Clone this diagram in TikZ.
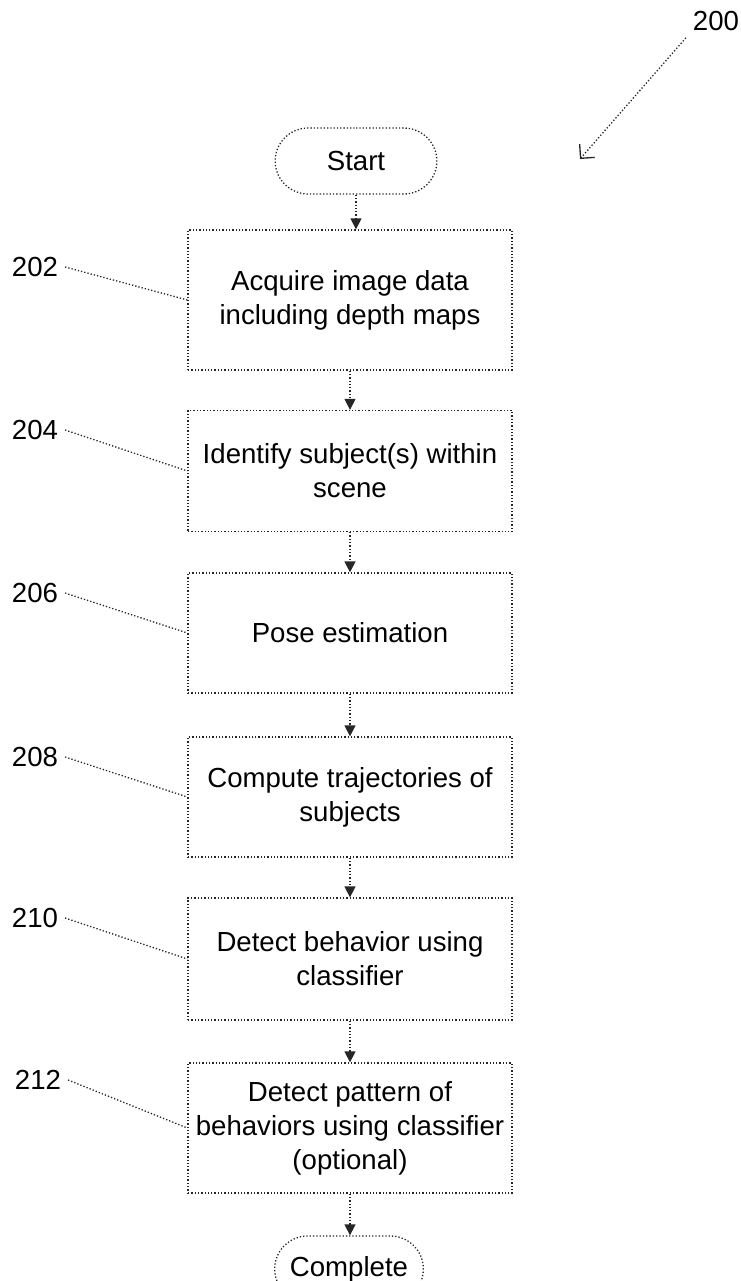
\documentclass[tikz,border=0pt]{standalone}
\usepackage{fontspec}
\setmainfont{Liberation Sans}
\usetikzlibrary{arrows.meta,shapes.misc}

\tikzset{
  thinline/.style={draw=black!85, densely dotted, line width=0.65pt},
  stepbox/.style={thinline, rectangle, minimum width=162pt, align=center,
    font=\fontsize{13.8}{17}\selectfont},
  terminal/.style={thinline, rounded rectangle, minimum height=33pt,
    font=\fontsize{13.8}{17}\selectfont},
  reflabel/.style={font=\fontsize{13.8}{17}\selectfont},
  flow/.style={thinline, -{Triangle[length=5.5pt,width=5.5pt]}},
  lead/.style={thinline}
}

\begin{document}
\begin{tikzpicture}[x=0.5pt,y=-0.5pt]
    \useasboundingbox (0,0) rectangle (740,1281);
    % flow steps
    \node[terminal, minimum width=87.5pt] (start) at (356,161) {Start};
    \node[stepbox, minimum height=70pt] (b202) at (350,300) {Acquire image data\\including depth maps};
    \node[stepbox, minimum height=60.5pt] (b204) at (350,471) {Identify subject(s) within\\scene};
    \node[stepbox, minimum height=60pt] (b206) at (350,633) {Pose estimation};
    \node[stepbox, minimum height=60pt] (b208) at (350,797) {Compute trajectories of\\subjects};
    \node[stepbox, minimum height=61pt] (b210) at (350,959) {Detect behavior using\\classifier};
    \node[stepbox, minimum height=65pt] (b212) at (350,1128) {Detect pattern of\\behaviors using classifier\\(optional)};
    \node[terminal, minimum width=81pt] (done) at (349,1269) {Complete};
    % connectors
    \draw[flow] (start.south) -- (start.south |- b202.north);
    \draw[flow] (b202.south) -- (b204.north);
    \draw[flow] (b204.south) -- (b206.north);
    \draw[flow] (b206.south) -- (b208.north);
    \draw[flow] (b208.south) -- (b210.north);
    \draw[flow] (b210.south) -- (b212.north);
    \draw[flow] (b212.south) -- (b212.south |- done.north);
    % reference numerals
    \node[reflabel] (l202) at (35,267) {202};
    \node[reflabel] (l204) at (35,430) {204};
    \node[reflabel] (l206) at (35,593) {206};
    \node[reflabel] (l208) at (35,757) {208};
    \node[reflabel] (l210) at (35,918) {210};
    \node[reflabel] (l212) at (38,1080) {212};
    \foreach \n in {202,204,206,208,210,212}
        \draw[lead] (l\n.east) -- (b\n.west);
    \node[reflabel] (l200) at (716,21) {200};
    \coordinate (p200) at (580,159);
    \draw[lead, -{Straight Barb[length=5pt]}] (l200.south west) -- (p200);
\end{tikzpicture}
\end{document}
